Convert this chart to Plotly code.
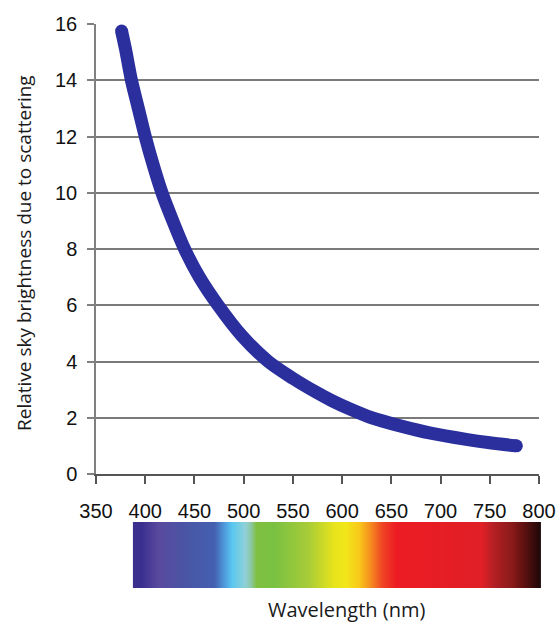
import plotly.graph_objects as go

# ---- data ----
WAVELENGTH_NM = [376, 380, 386, 393, 400, 408, 417, 428, 440, 455, 474, 498,
                 525, 550, 574, 590, 608, 630, 659, 690, 726, 750, 777]
BRIGHTNESS = [15.75, 15.1, 14.0, 13.0, 12.0, 11.0, 10.0, 9.0, 8.0, 7.0, 6.0, 4.92,
              4.0, 3.4, 2.9, 2.6, 2.31, 2.0, 1.71, 1.45, 1.23, 1.11, 1.0]

X_TICKS = [350, 400, 450, 500, 550, 600, 650, 700, 750, 800]
Y_TICKS = [0, 2, 4, 6, 8, 10, 12, 14, 16]

# spectrum bar colour stops (wavelength, colour)
SPECTRUM_NM = [396, 413, 440, 470, 481, 488, 501, 507, 512, 531, 565, 592, 604,
               617, 630, 640, 655, 742, 752, 772, 786, 802]
SPECTRUM_COLORS = ["#3a2f8f", "#5a4a9e", "#4a55a5", "#4460b0", "#50a0e0", "#5ac8f0",
                   "#90d0d8", "#8cc8a0", "#80c040", "#7ac142", "#a8cc38", "#e8e41c",
                   "#f2e61a", "#f8c81a", "#f58220", "#ef4523", "#ed1c24", "#e01f26",
                   "#b82025", "#8a1a1a", "#5a1010", "#1a0808"]

W, H = 559, 622
ML, MR, MT, MB = 96, 18, 24, 30
PW = W - ML - MR
PH = H - MT - MB
AXIS_RIGHT = 539
AXIS_BOTTOM = 474

def px_to_xpaper(px):
    return (px - ML) / PW

def px_to_ypaper(py):
    return (H - MB - py) / PH

lo, hi = SPECTRUM_NM[0], SPECTRUM_NM[-1]
colorscale = [[(w - lo) / (hi - lo), c] for w, c in zip(SPECTRUM_NM, SPECTRUM_COLORS)]

fig = go.Figure()

fig.add_trace(go.Scatter(
    x=WAVELENGTH_NM, y=BRIGHTNESS, mode="lines",
    line=dict(color="#2b2f9e", width=13, shape="spline", smoothing=0.8),
    hoverinfo="skip", showlegend=False, xaxis="x", yaxis="y"))
fig.add_trace(go.Scatter(
    x=[WAVELENGTH_NM[0], WAVELENGTH_NM[-1]], y=[BRIGHTNESS[0], BRIGHTNESS[-1]],
    mode="markers", marker=dict(color="#2b2f9e", size=13, line=dict(width=0)),
    hoverinfo="skip", showlegend=False, xaxis="x", yaxis="y"))

fig.add_trace(go.Heatmap(
    x=SPECTRUM_NM, y=[0], z=[SPECTRUM_NM], zmin=lo, zmax=hi,
    colorscale=colorscale, zsmooth="best", showscale=False,
    hoverinfo="skip", xaxis="x2", yaxis="y2"))

tick_font = dict(family="Liberation Sans, Arial, sans-serif", size=20, color="#111111")
x_dom_end = px_to_xpaper(AXIS_RIGHT)
px_per_nm = (AXIS_RIGHT - ML) / (X_TICKS[-1] - X_TICKS[0])

fig.update_layout(
    width=W, height=H,
    margin=dict(l=ML, r=MR, t=MT, b=MB, autoexpand=False),
    paper_bgcolor="white", plot_bgcolor="white",
    xaxis=dict(domain=[0, x_dom_end], range=[X_TICKS[0], X_TICKS[-1]],
               tickvals=X_TICKS, ticks="outside", ticklen=8, tickwidth=1.5,
               tickcolor="#555555", showline=True, linecolor="#555555", linewidth=1.5,
               showgrid=False, zeroline=False, tickfont=tick_font, automargin=False,
               ticklabelstandoff=10, anchor="y"),
    yaxis=dict(domain=[px_to_ypaper(AXIS_BOTTOM), 1], range=[0, 16],
               tickvals=Y_TICKS, ticks="outside", ticklen=7, tickwidth=2,
               tickcolor="#808080", showline=True, linecolor="#808080", linewidth=1.5,
               showgrid=True, gridcolor="#7a7a7a", gridwidth=2, zeroline=False,
               tickfont=tick_font, ticklabelstandoff=6, automargin=False, anchor="x"),
    xaxis2=dict(domain=[0, 1], range=[X_TICKS[0], X_TICKS[0] + PW / px_per_nm],
                visible=False, anchor="y2"),
    yaxis2=dict(domain=[px_to_ypaper(588), px_to_ypaper(522)], range=[-0.5, 0.5],
                visible=False, anchor="x2"),
    annotations=[
        dict(text="Relative sky brightness due to scattering", textangle=-90,
             xref="paper", yref="paper", x=px_to_xpaper(24), y=px_to_ypaper(253),
             xanchor="center", yanchor="middle", showarrow=False,
             font=dict(family="Open Sans, sans-serif", size=19, color="#1a1a1a")),
        dict(text="Wavelength (nm)",
             xref="paper", yref="paper", x=px_to_xpaper(346), y=px_to_ypaper(609),
             xanchor="center", yanchor="middle", showarrow=False,
             font=dict(family="Open Sans, sans-serif", size=20, color="#1a1a1a")),
    ],
)

fig.write_html("out.html", config={"displayModeBar": False},
               post_script="document.body.style.margin='0px';document.body.style.overflow='hidden';")
